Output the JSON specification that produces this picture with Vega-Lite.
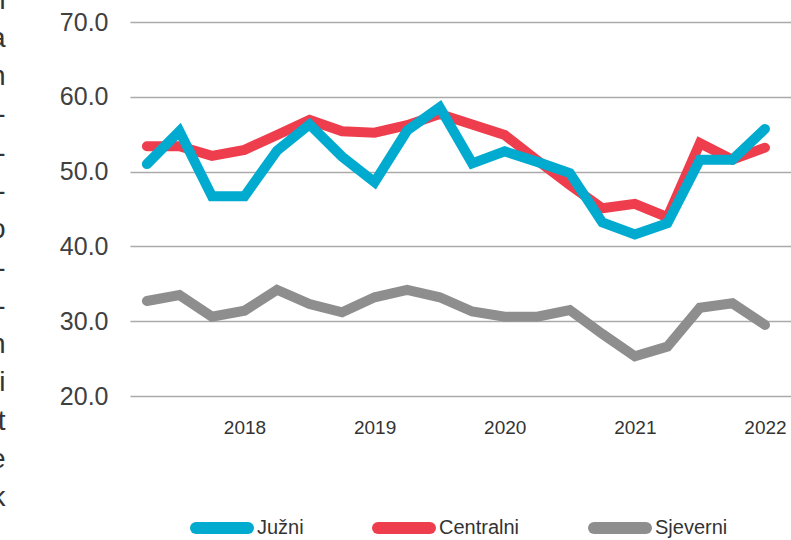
{
  "$schema": "https://vega.github.io/schema/vega-lite/v6.json",
  "width": 661,
  "height": 374,
  "autosize": {"type": "none"},
  "padding": {"left": 130, "top": 22, "right": 0, "bottom": 144},
  "background": "white",
  "config": {"view": {"stroke": null}, "font": "Liberation Sans"},
  "data": {
    "values": [
      {"kvartal": 2017.25, "regija": "Sjeverni", "vrijednost": 32.7},
      {"kvartal": 2017.5, "regija": "Sjeverni", "vrijednost": 33.5},
      {"kvartal": 2017.75, "regija": "Sjeverni", "vrijednost": 30.6},
      {"kvartal": 2018.0, "regija": "Sjeverni", "vrijednost": 31.4},
      {"kvartal": 2018.25, "regija": "Sjeverni", "vrijednost": 34.2},
      {"kvartal": 2018.5, "regija": "Sjeverni", "vrijednost": 32.3},
      {"kvartal": 2018.75, "regija": "Sjeverni", "vrijednost": 31.2},
      {"kvartal": 2019.0, "regija": "Sjeverni", "vrijednost": 33.2},
      {"kvartal": 2019.25, "regija": "Sjeverni", "vrijednost": 34.2},
      {"kvartal": 2019.5, "regija": "Sjeverni", "vrijednost": 33.2},
      {"kvartal": 2019.75, "regija": "Sjeverni", "vrijednost": 31.3},
      {"kvartal": 2020.0, "regija": "Sjeverni", "vrijednost": 30.6},
      {"kvartal": 2020.25, "regija": "Sjeverni", "vrijednost": 30.6},
      {"kvartal": 2020.5, "regija": "Sjeverni", "vrijednost": 31.5},
      {"kvartal": 2020.75, "regija": "Sjeverni", "vrijednost": 28.3},
      {"kvartal": 2021.0, "regija": "Sjeverni", "vrijednost": 25.3},
      {"kvartal": 2021.25, "regija": "Sjeverni", "vrijednost": 26.6},
      {"kvartal": 2021.5, "regija": "Sjeverni", "vrijednost": 31.8},
      {"kvartal": 2021.75, "regija": "Sjeverni", "vrijednost": 32.4},
      {"kvartal": 2022.0, "regija": "Sjeverni", "vrijednost": 29.5},
      {"kvartal": 2017.25, "regija": "Centralni", "vrijednost": 53.4},
      {"kvartal": 2017.5, "regija": "Centralni", "vrijednost": 53.4},
      {"kvartal": 2017.75, "regija": "Centralni", "vrijednost": 52.1},
      {"kvartal": 2018.0, "regija": "Centralni", "vrijednost": 52.9},
      {"kvartal": 2018.25, "regija": "Centralni", "vrijednost": 54.9},
      {"kvartal": 2018.5, "regija": "Centralni", "vrijednost": 56.9},
      {"kvartal": 2018.75, "regija": "Centralni", "vrijednost": 55.4},
      {"kvartal": 2019.0, "regija": "Centralni", "vrijednost": 55.2},
      {"kvartal": 2019.25, "regija": "Centralni", "vrijednost": 56.2},
      {"kvartal": 2019.5, "regija": "Centralni", "vrijednost": 57.7},
      {"kvartal": 2019.75, "regija": "Centralni", "vrijednost": 56.3},
      {"kvartal": 2020.0, "regija": "Centralni", "vrijednost": 54.9},
      {"kvartal": 2020.25, "regija": "Centralni", "vrijednost": 51.5},
      {"kvartal": 2020.5, "regija": "Centralni", "vrijednost": 48.2},
      {"kvartal": 2020.75, "regija": "Centralni", "vrijednost": 45.1},
      {"kvartal": 2021.0, "regija": "Centralni", "vrijednost": 45.7},
      {"kvartal": 2021.25, "regija": "Centralni", "vrijednost": 43.9},
      {"kvartal": 2021.5, "regija": "Centralni", "vrijednost": 53.8},
      {"kvartal": 2021.75, "regija": "Centralni", "vrijednost": 51.6},
      {"kvartal": 2022.0, "regija": "Centralni", "vrijednost": 53.2},
      {"kvartal": 2017.25, "regija": "Južni", "vrijednost": 51.0},
      {"kvartal": 2017.5, "regija": "Južni", "vrijednost": 55.4},
      {"kvartal": 2017.75, "regija": "Južni", "vrijednost": 46.7},
      {"kvartal": 2018.0, "regija": "Južni", "vrijednost": 46.7},
      {"kvartal": 2018.25, "regija": "Južni", "vrijednost": 52.8},
      {"kvartal": 2018.5, "regija": "Južni", "vrijednost": 56.3},
      {"kvartal": 2018.75, "regija": "Južni", "vrijednost": 52.0},
      {"kvartal": 2019.0, "regija": "Južni", "vrijednost": 48.6},
      {"kvartal": 2019.25, "regija": "Južni", "vrijednost": 55.5},
      {"kvartal": 2019.5, "regija": "Južni", "vrijednost": 58.6},
      {"kvartal": 2019.75, "regija": "Južni", "vrijednost": 51.1},
      {"kvartal": 2020.0, "regija": "Južni", "vrijednost": 52.7},
      {"kvartal": 2020.25, "regija": "Južni", "vrijednost": 51.3},
      {"kvartal": 2020.5, "regija": "Južni", "vrijednost": 49.8},
      {"kvartal": 2020.75, "regija": "Južni", "vrijednost": 43.2},
      {"kvartal": 2021.0, "regija": "Južni", "vrijednost": 41.6},
      {"kvartal": 2021.25, "regija": "Južni", "vrijednost": 43.1},
      {"kvartal": 2021.5, "regija": "Južni", "vrijednost": 51.6},
      {"kvartal": 2021.75, "regija": "Južni", "vrijednost": 51.6},
      {"kvartal": 2022.0, "regija": "Južni", "vrijednost": 55.7}
    ]
  },
  "mark": {"type": "line", "strokeWidth": 10, "strokeCap": "round", "clip": false},
  "encoding": {
    "x": {
      "field": "kvartal",
      "type": "quantitative",
      "scale": {"domain": [2017.12, 2022.2], "nice": false, "zero": false},
      "axis": {
        "values": [2018, 2019, 2020, 2021, 2022],
        "format": "d",
        "grid": false,
        "domain": false,
        "ticks": false,
        "labelPadding": 22,
        "labelFontSize": 19,
        "labelColor": "#333333",
        "labelFlush": false,
        "labelOverlap": false,
        "title": null
      }
    },
    "y": {
      "field": "vrijednost",
      "type": "quantitative",
      "scale": {"domain": [20, 70], "nice": false, "zero": false},
      "axis": {
        "values": [20, 30, 40, 50, 60, 70],
        "format": ".1f",
        "gridColor": "#aaaaaa",
        "gridWidth": 1.5,
        "domain": false,
        "ticks": false,
        "labelPadding": 22,
        "labelFontSize": 25,
        "labelColor": "#404040",
        "title": ["n", "a", "n", "-", "-", "-", "o", "-", "-", "n", "i", "t", "e", "k"],
        "titleAngle": 0,
        "titleAlign": "right",
        "titleBaseline": "alphabetic",
        "titleX": -125,
        "titleY": -14,
        "titleFontSize": 28,
        "titleFontWeight": "normal",
        "titleLineHeight": 38.3,
        "titleColor": "#333333"
      }
    },
    "color": {
      "field": "regija",
      "type": "nominal",
      "scale": {"domain": ["Južni", "Centralni", "Sjeverni"], "range": ["#00abcf", "#ee3e4e", "#8e8e8e"]},
      "legend": {
        "orient": "none",
        "legendX": 60,
        "legendY": 474,
        "direction": "horizontal",
        "title": null,
        "symbolType": "stroke",
        "symbolSize": 2704,
        "symbolStrokeWidth": 12,
        "labelFontSize": 20,
        "labelColor": "#333333",
        "labelOffset": 3,
        "columnPadding": 50,
        "padding": 0,
        "encode": {"symbols": {"update": {"strokeCap": {"value": "round"}}}}
      }
    }
  }
}
